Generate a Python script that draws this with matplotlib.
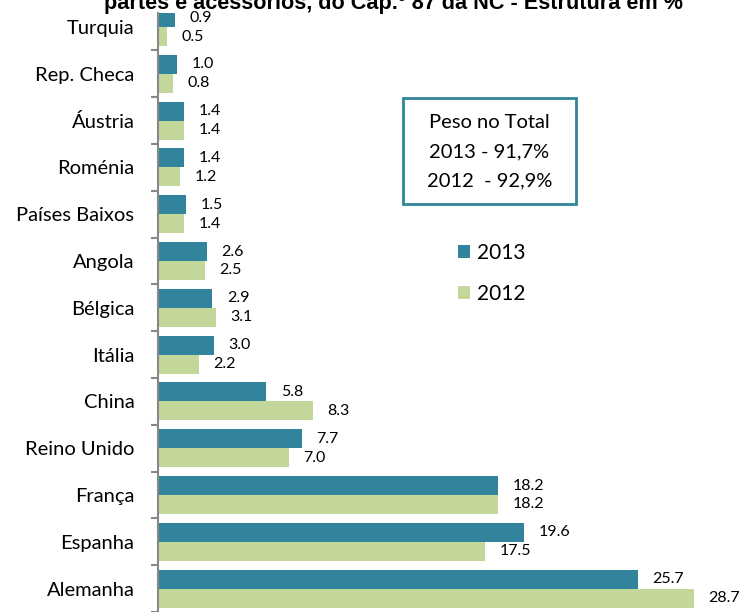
import matplotlib
matplotlib.use("Agg")
import matplotlib.pyplot as plt
from matplotlib.patches import Rectangle
import numpy as np

categories = ["Alemanha", "Espanha", "França", "Reino Unido", "China", "Itália",
              "Bélgica", "Angola", "Países Baixos", "Roménia", "Áustria",
              "Rep. Checa", "Turquia"]
v2013 = [25.7, 19.6, 18.2, 7.7, 5.8, 3.0, 2.9, 2.6, 1.5, 1.4, 1.4, 1.0, 0.9]
v2012 = [28.7, 17.5, 18.2, 7.0, 8.3, 2.2, 3.1, 2.5, 1.4, 1.2, 1.4, 0.8, 0.5]
series_names = ["2013", "2012"]
title = "partes e acessórios, do Cap.º 87 da NC - Estrutura em %"
box_lines = ["Peso no Total", "2013 - 91,7%", "2012  - 92,9%"]

c2013 = "#31849B"
c2012 = "#C4D79B"
font = "Lato"

W, H = 744, 612
fig = plt.figure(figsize=(W/100, H/100), dpi=100)
x0, x1 = 158, 737
y_top, y_bot = 13, 612
ax = fig.add_axes([x0/W, 1 - y_bot/H, (x1-x0)/W, (y_bot-y_top)/H])

y = np.arange(len(categories))
h = 0.405
ax.barh(y + h/2, v2013, height=h, color=c2013, label=series_names[0])
ax.barh(y - h/2, v2012, height=h, color=c2012, label=series_names[1])

for yi, a, b in zip(y, v2013, v2012):
    ax.annotate(f"{a:.1f}", (a, yi + h/2), xytext=(10.5, 0), textcoords="offset points",
                va="center", ha="left", fontsize=11.5, family=font)
    ax.annotate(f"{b:.1f}", (b, yi - h/2), xytext=(10.5, 0), textcoords="offset points",
                va="center", ha="left", fontsize=11.5, family=font)

ax.set_xlim(0, 31)
ax.set_ylim(-0.45, 12.3)
ax.set_yticks(y)
ax.set_yticklabels(categories, fontsize=14.5, family=font)
ax.tick_params(axis="y", which="major", length=0, pad=17)
ax.set_yticks(np.arange(-0.5, 12.5, 1.0), minor=True)
ax.tick_params(axis="y", which="minor", length=5, width=1.5, color="#888888", direction="out")
ax.tick_params(axis="x", bottom=False, labelbottom=False)
for s in ["top", "right", "bottom"]:
    ax.spines[s].set_visible(False)
ax.spines["left"].set_color("#888888")
ax.spines["left"].set_linewidth(1.5)

# Text box
bx0, bx1, by0, by1 = 403, 576, 98, 204
fig.patches.append(Rectangle((bx0/W, 1 - by1/H), (bx1-bx0)/W, (by1-by0)/H,
                             transform=fig.transFigure, fill=False,
                             edgecolor=c2013, linewidth=2))
for i, line in enumerate(box_lines):
    fig.text((bx0+bx1)/2/W, 1 - (122 + i*29.5)/H, line, ha="center", va="center",
             fontsize=14.5, family=font)

# Legend
leg = ax.legend(loc="upper left",
                bbox_to_anchor=((458-x0)/(x1-x0), 1 - (243-y_top)/(y_bot-y_top)),
                frameon=False, prop={"family": font, "size": 15},
                handlelength=0.58, handleheight=0.58, labelspacing=1.0,
                handletextpad=0.34, borderpad=0, borderaxespad=0)

fig.text(394/W, 1 - 9.5/H, title, ha="center", va="baseline", fontsize=15.6,
         fontweight="bold", family="Liberation Sans")

fig.savefig("out.png", dpi=100)
